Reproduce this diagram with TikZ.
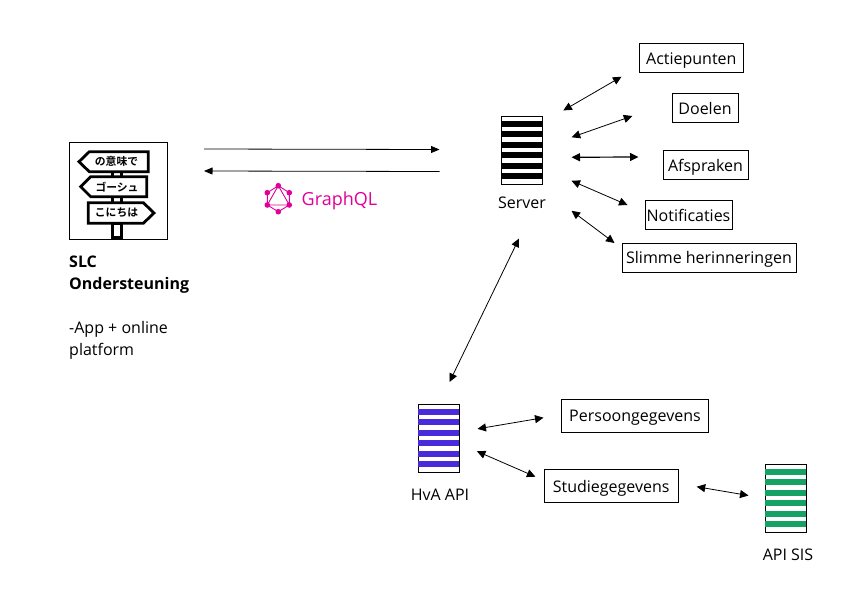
\documentclass[tikz,border=0pt]{standalone}
\usepackage{fontspec}
\usetikzlibrary{arrows.meta}
\setmainfont{Open Sans}
\newfontfamily\jpfont{Noto Sans CJK JP}[BoldFont={* Bold}]
\definecolor{gql}{HTML}{E10098}
\definecolor{hvablue}{HTML}{4B2ADB}
\definecolor{sisgreen}{HTML}{17A265}
\tikzset{
  x=1pt,y=-1pt,
  lbl/.style={draw=black,line width=1pt,minimum height=#1,inner sep=0pt,text height=13pt,text depth=1pt,font=\fontsize{16}{18}\selectfont,text=black},
  lbl/.default=28.6pt,
  captxt/.style={inner sep=0pt,font=\fontsize{16}{18}\selectfont},
  twoway/.style={line width=0.8pt,{Triangle[length=8.5pt,width=8pt]}-{Triangle[length=8.5pt,width=8pt]}},
  oneway/.style={line width=0.8pt,-{Triangle[length=8.5pt,width=7pt]}},
  sign/.style={draw=black,line width=2.8pt,fill=white,line join=miter},
  signtxt/.style={inner sep=0pt,font=\jpfont\bfseries\fontsize{10.8}{12}\selectfont},
  gqldot/.style={circle,fill=gql,inner sep=0pt,minimum size=5.6pt},
  stack/.style={draw=black,line width=1pt,minimum width=41pt,minimum height=67.5pt,inner sep=0pt,anchor=north west},
}
\newcommand{\stripes}[4]{% x, y of top-left, colour, width
  \foreach \d in {0,10.4,21,31.3,41.8,52.3}
    \fill[#3] (#1,#2+5+\d) rectangle (#1+#4,#2+11+\d);
}
\begin{document}
\begin{tikzpicture}
\useasboundingbox[fill=white] (0,0) rectangle (842,595);

% Logo
\node[draw=black,line width=1pt,minimum width=98pt,minimum height=97pt,inner sep=0pt] (logo) at (118.2,190.5) {};
\draw[line width=2.8pt] (112.5,170) -- (112.5,178) (121.5,170) -- (121.5,178) (112.5,195) -- (112.5,204) (121.5,195) -- (121.5,204);
\draw[sign] (112.5,224) rectangle (121.5,237.7);
\draw[sign] (79,161.7) -- (89.3,151.7) -- (148.3,151.7) -- (148.3,171.7) -- (89.3,171.7) -- cycle;
\draw[sign] (80.7,186.7) -- (90.7,176.7) -- (146.7,176.7) -- (146.7,196.7) -- (90.7,196.7) -- cycle;
\draw[sign] (88.3,202.7) -- (143.3,202.7) -- (154,213) -- (143.3,223.3) -- (88.3,223.3) -- cycle;
\node[signtxt] (s1) at (116.5,161.7) {の意味で};
\node[signtxt] (s2) at (117,186.7) {ゴーシュ};
\node[signtxt] (s3) at (116.5,213) {こにちは};

% Left text
\node[captxt,anchor=base west] (t1) at (69,267) {\bfseries SLC};
\node[captxt,anchor=base west] (t2) at (69,289) {\bfseries Ondersteuning};
\node[captxt,anchor=base west] (t3) at (69,333) {-App + online};
\node[captxt,anchor=base west] (t4) at (69,355) {platform};

% Stacks
\node[stack] (server) at (501,116) {};
\stripes{501}{116}{black}{41}
\node[stack] (hva) at (418,404) {};
\stripes{418}{404}{hvablue}{41}
\node[stack] (sis) at (765,464) {};
\stripes{765}{464}{sisgreen}{41}
\node[captxt,anchor=base] (servert) at (522,208) {Server};
\node[captxt,anchor=base] (hvat) at (440,500.5) {HvA API};
\node[captxt,anchor=base] (sist) at (788,560) {API SIS};

% Boxes
\node[lbl,minimum width=104pt] (act) at (691.3,58) {Actiepunten};
\node[lbl,minimum width=66pt] (doel) at (705,108) {Doelen};
\node[lbl,minimum width=85pt] (afs) at (705.5,165) {Afspraken};
\node[lbl,minimum width=87pt] (not) at (688.5,215) {Notificaties};
\node[lbl=29pt,minimum width=174pt] (sli) at (709,257.5) {Slimme herinneringen};
\node[lbl=33pt,minimum width=147pt] (per) at (635,415.8) {Persoongegevens};
\node[lbl=32.6pt,minimum width=134pt] (stu) at (611.2,486) {Studiegegevens};

% GraphQL
\coordinate (g1) at (278.3,185.7);
\coordinate (g2) at (289.3,192.7);
\coordinate (g3) at (289.3,205);
\coordinate (g4) at (278.3,211.7);
\coordinate (g5) at (267.3,205);
\coordinate (g6) at (267.3,192.7);
\draw[gql,line width=0.9pt] (g1)--(g2)--(g3)--(g4)--(g5)--(g6)--cycle (g1)--(g3)--(g5)--cycle;
\foreach \p in {g1,g2,g3,g4,g5,g6} \node[gqldot] at (\p) {};
\node[inner sep=0pt,anchor=base west,text=gql,font=\fontsize{18}{20}\selectfont] (gqlt) at (301.5,205) {GraphQL};

% Connectors
\draw[oneway] ([shift={(36.3,-41.5)}]logo.east) -- ([shift={(-82.5,-0.75)}]server.center);
\draw[oneway] ([shift={(-82.5,21.25)}]server.center) -- ([shift={(36.3,-19.5)}]logo.east);
\draw[twoway] ([shift={(20.3,-39.8)}]server.east) -- ([shift={(-17.3,18.7)}]act.west);
\draw[twoway] ([shift={(28.7,-13)}]server.east) -- ([shift={(-39.2,8)}]doel.west);
\draw[twoway,line width=1.2pt] ([shift={(28.5,7)}]server.east) -- ([shift={(-24,-8)}]afs.west);
\draw[twoway] ([shift={(28.5,30.5)}]server.east) -- ([shift={(-17,-10)}]not.west);
\draw[twoway] ([shift={(28.5,60.5)}]server.east) -- ([shift={(-7,-14.5)}]sli.west);
\draw[twoway] ([shift={(-3,54)}]server.south) -- ([shift={(10.5,-22)}]hva.north);
\draw[twoway] ([shift={(17.5,-9.4)}]hva.east) -- ([shift={(-17.5,1.9)}]per.west);
\draw[twoway] ([shift={(16.9,13)}]hva.east) -- ([shift={(-8.3,-9.3)}]stu.west);
\draw[twoway] ([shift={(18,0.7)}]stu.east) -- ([shift={(-16.5,-2.75)}]sis.west);
\end{tikzpicture}
\end{document}
